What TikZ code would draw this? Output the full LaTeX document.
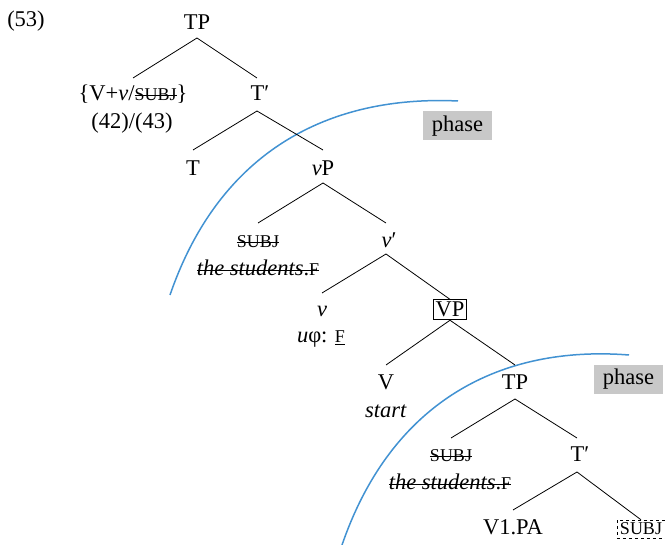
\documentclass[tikz,border=0pt]{standalone}
\usepackage{fontspec}
\setmainfont{Liberation Serif}
\usetikzlibrary{calc}
\definecolor{phaseblue}{RGB}{66,146,210}
\definecolor{phasegray}{RGB}{200,200,200}
\newcommand{\sca}[1]{{\fontsize{18}{18}\selectfont #1}}
\newsavebox{\strkbox}
\newcommand{\strk}[2][5.5pt]{\sbox{\strkbox}{#2}\rlap{\rule[#1]{\wd\strkbox}{0.8pt}}\usebox{\strkbox}}
\begin{document}
\begin{tikzpicture}[x=1pt,y=-1pt,
  every node/.style={font=\fontsize{22.5}{26}\selectfont, inner sep=0pt},
  lab/.style={anchor=base},
  edge/.style={line width=0.8pt},
  phasebox/.style={fill=phasegray, minimum width=69pt, minimum height=29pt, inner sep=0pt},
  arc/.style={phaseblue, line width=1.5pt}]
\useasboundingbox (0,0) rectangle (665,545);
% phase arcs
\coordinate (a1s) at (170,295);
\coordinate (a1e) at (458,101);
\coordinate (a2s) at (342,545);
\coordinate (a2e) at (629,355);
\draw[arc] (a1s) .. controls (220,150) and (330,95) .. (a1e);
\draw[arc] (a2s) .. controls (392,400) and (502,345) .. (a2e);
\node[phasebox] (ph1) at (457.5,126) {phase};
\node[phasebox] (ph2) at (628.5,379.5) {phase};
% nodes
\node[lab] (ex) at (26,27) {(53)};
\node[lab] (tp) at (197,30) {TP};
\node[lab] (vv) at (133,101) {\{V+\textit{v}/\strk{\sca{SUBJ}}\}};
\node[lab] (num) at (132,129) {(42)/(43)};
\node[lab] (tbar) at (260,101) {T′};
\node[lab] (t) at (193,176) {T};
\node[lab] (vp) at (323,176) {\textit{v}P};
\node[lab] (subj) at (258,248) {\strk{\sca{SUBJ}}};
\node[lab] (stud) at (258,276) {\strk{\textit{the students}.\sca{F}}};
\node[lab] (vbar) at (389,248) {\textit{v}′};
\node[lab] (v) at (322,317) {\textit{v}};
\node[lab] (uphi) at (321,343) {\textit{u}φ: \underline{\sca{F}}};
\node[draw, line width=0.8pt, inner sep=2.5pt, anchor=base] (VP) at (450,317) {VP};
\node[lab] (V) at (386,390) {V};
\node[lab] (start) at (386,418) {\textit{start}};
\node[lab] (tp2) at (515,390) {TP};
\node[lab] (subj2) at (451,462) {\strk{\sca{SUBJ}}};
\node[lab] (stud2) at (450,490) {\strk{\textit{the students}.\sca{F}}};
\node[lab] (tbar2) at (580,462) {T′};
\node[lab] (v1pa) at (513,535) {V1.PA};
\node[draw, dashed, line width=0.6pt, inner sep=3pt, anchor=base] (subj3) at (641,535) {\sca{SUBJ}};
% edges
\draw[edge] ([yshift=-8pt]tp.base) -- ([yshift=23pt]vv.base);
\draw[edge] ([yshift=-8pt]tp.base) -- ([xshift=-3pt,yshift=23pt]tbar.base);
\draw[edge] ([xshift=-3pt,yshift=-10pt]tbar.base) -- ([yshift=26pt]t.base);
\draw[edge] ([xshift=-3pt,yshift=-10pt]tbar.base) -- ([yshift=26pt]vp.base);
\draw[edge] ([yshift=-7pt]vp.base) -- ([yshift=25pt]subj.base);
\draw[edge] ([yshift=-7pt]vp.base) -- ([xshift=-3pt,yshift=25pt]vbar.base);
\draw[edge] ([xshift=-3pt,yshift=-6pt]vbar.base) -- ([yshift=24pt]v.base);
\draw[edge] ([xshift=-3pt,yshift=-6pt]vbar.base) -- (VP.north);
\draw[edge] (VP.south) -- ([yshift=25pt]V.base);
\draw[edge] (VP.south) -- ([yshift=25pt]tp2.base);
\draw[edge] ([yshift=-9pt]tp2.base) -- ([yshift=24pt]subj2.base);
\draw[edge] ([yshift=-9pt]tp2.base) -- ([xshift=-3pt,yshift=24pt]tbar2.base);
\draw[edge] ([xshift=-3pt,yshift=-10pt]tbar2.base) -- ([yshift=25pt]v1pa.base);
\draw[edge] ([xshift=-3pt,yshift=-10pt]tbar2.base) -- (subj3.north);
\end{tikzpicture}
\end{document}
